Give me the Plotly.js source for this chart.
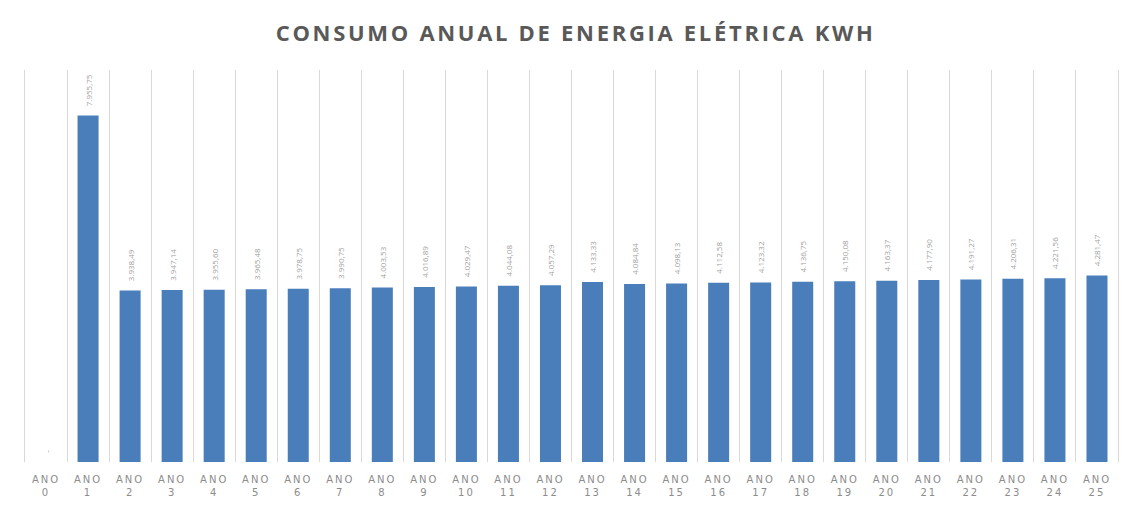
<!DOCTYPE html>
<html>
<head>
<meta charset="utf-8">
<script src="https://cdn.plot.ly/plotly-3.0.1.min.js"></script>
<style>
body{margin:0;background:#fff;}
.gtitle{letter-spacing:2.7px;}
.xtick text{letter-spacing:2px;}
</style>
</head>
<body>
<div id="plotArea" style="width:1133px;height:515px;"></div>
<script>
// consumo anual por ano (kWh)
var anos = ["ANO<br>0", "ANO<br>1", "ANO<br>2", "ANO<br>3", "ANO<br>4", "ANO<br>5", "ANO<br>6",
    "ANO<br>7", "ANO<br>8", "ANO<br>9", "ANO<br>10", "ANO<br>11", "ANO<br>12", "ANO<br>13",
    "ANO<br>14", "ANO<br>15", "ANO<br>16", "ANO<br>17", "ANO<br>18", "ANO<br>19", "ANO<br>20",
    "ANO<br>21", "ANO<br>22", "ANO<br>23", "ANO<br>24", "ANO<br>25"];
var consumo = [0, 7955.75, 3938.49, 3947.14, 3955.60, 3965.48, 3978.75, 3990.75, 4003.53,
    4016.89, 4029.47, 4044.08, 4057.29, 4133.33, 4084.84, 4098.13, 4112.58, 4123.32,
    4136.75, 4150.08, 4163.37, 4177.90, 4191.27, 4206.31, 4221.56, 4281.47];

// formato brasileiro: 4.003,53 (com folga antes do rotulo, como no original)
function fmt(v) {
    if (v === 0) return "\u00a0\u00a0\u00a0-";
    var p = v.toFixed(2).split(".");
    return "\u00a0\u00a0\u00a0" + p[0].replace(/\B(?=(\d{3})+(?!\d))/g, ".") + "," + p[1];
}
var rotulos = consumo.map(fmt);

var trace = {
    x: anos,
    y: consumo,
    type: "bar",
    marker: {color: "#4a7ebb"},
    text: rotulos,
    textposition: "outside",
    textangle: -90,
    constraintext: "none",
    cliponaxis: false,
    textfont: {family: "Open Sans", size: 8, color: "#a0a0a0"},
    hoverinfo: "x+y"
};

var layout = {
    title: {
        text: "<b>CONSUMO ANUAL DE ENERGIA ELÉTRICA KWH</b>",
        font: {family: "Open Sans", size: 22, color: "#595959"},
        x: 0.508, xanchor: "center", y: 0.95
    },
    margin: {l: 25, r: 15, t: 70, b: 53},
    bargap: 0.5,
    showlegend: false,
    paper_bgcolor: "#fff",
    plot_bgcolor: "#fff",
    xaxis: {
        type: "category",
        tickson: "boundaries",
        showgrid: true,
        gridcolor: "#d9d9d9",
        gridwidth: 1,
        ticks: "",
        showline: false,
        zeroline: false,
        tickangle: 0,
        ticklabelstandoff: 10,
        tickfont: {family: "DejaVu Sans", size: 10, color: "#8c8c8c"}
    },
    yaxis: {
        range: [0, 9000],
        showticklabels: false,
        ticks: "",
        showgrid: false,
        zeroline: false,
        showline: true,
        mirror: true,
        linecolor: "#d9d9d9",
        linewidth: 1
    }
};

Plotly.newPlot("plotArea", [trace], layout, {displayModeBar: false});
</script>
</body>
</html>
